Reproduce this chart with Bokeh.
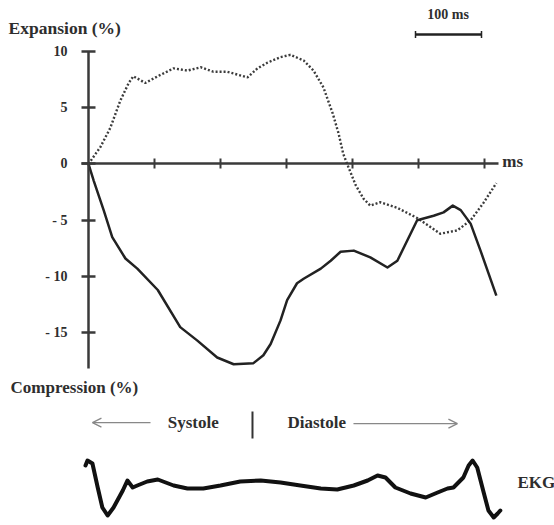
from bokeh.plotting import figure
from bokeh.models import Range1d, LinearAxis, FixedTicker, Label, Arrow, OpenHead
from bokeh.embed import file_html
from bokeh.resources import INLINE

# ---- data (ms, %) ----
time_exp = [0, 18, 33, 48, 61, 68, 86, 105, 129, 150, 170, 189, 210, 241, 256, 271, 291, 306, 326,
            341, 356, 370, 379, 386, 394, 405, 417, 427, 442, 468, 498, 533, 559, 579, 598, 618]
expansion = [0, 1.5, 3.2, 5.6, 7.2, 7.8, 7.2, 7.8, 8.5, 8.3, 8.6, 8.2, 8.2, 7.7, 8.5, 9.0, 9.5, 9.7, 9.2,
             8.3, 6.8, 4.5, 2.7, 0.9, -0.3, -1.9, -3.1, -3.7, -3.4, -3.9, -4.8, -6.2, -5.9, -5.0, -3.5, -1.7]

time_comp = [0, 8, 23, 36, 56, 74, 105, 139, 165, 195, 220, 250, 265, 276, 291, 301, 316, 326, 352,
             367, 382, 402, 427, 453, 468, 483, 498, 523, 538, 552, 564, 579, 594, 606, 618]
compression = [0, -1.5, -4.1, -6.5, -8.4, -9.3, -11.2, -14.5, -15.7, -17.2, -17.8, -17.7, -17.0, -16.0,
               -13.9, -12.1, -10.6, -10.2, -9.3, -8.6, -7.8, -7.7, -8.3, -9.2, -8.6, -6.8, -5.0, -4.6,
               -4.3, -3.7, -4.1, -5.3, -7.7, -9.7, -11.7]

time_ekg = [-4.5, -1.5, 6, 14, 21, 29, 38, 52, 59, 67, 74, 89, 105, 129, 150, 174, 200, 230, 261, 291,
            321, 352, 377, 402, 423, 438, 450, 465, 488, 511, 529, 544, 553, 568, 576, 582, 589, 598,
            606, 614, 620, 624]
ekg = [1.5, 2.0, 1.7, -0.7, -2.7, -3.5, -2.7, -1.0, 0.0, -0.7, -0.5, -0.1, 0.1, -0.5, -0.8, -0.8, -0.5,
       -0.1, 0.0, -0.2, -0.5, -0.8, -0.9, -0.5, 0.0, 0.5, 0.3, -0.7, -1.3, -1.7, -1.2, -0.8, -0.7, 0.3,
       1.5, 2.0, 1.3, -1.0, -3.0, -3.7, -3.3, -3.0]

x_ticks = [100, 200, 300, 400, 500, 600]
y_ticks = [10, 5, 0, -5, -10, -15]
y_tick_labels = ["10", "5", "0", "- 5", "- 10", "- 15"]
scale_bar_ms = 100

FONT = "Liberation Serif"
TXT = "#2e2e2e"
AX = "#3a3a3a"

p = figure(width=554, height=525, output_backend="svg", toolbar_location=None,
           x_axis_type=None, y_axis_type=None,
           x_range=Range1d(-133.3, 706.1), y_range=Range1d(-32.13, 14.53),
           min_border=0, outline_line_color=None, background_fill_color="white")
p.grid.visible = False
p.extra_y_ranges = {"ekg": Range1d(-4.5, 48.0)}

# axes crossing at origin
yax = LinearAxis(fixed_location=0, bounds=(-18.2, 10), ticker=FixedTicker(ticks=y_ticks),
                 major_label_overrides={t: l for t, l in zip(y_ticks, y_tick_labels)},
                 axis_line_width=2.5, axis_line_color=AX, major_tick_line_width=2.5,
                 major_tick_line_color=AX, major_tick_in=7, major_tick_out=7,
                 minor_tick_line_color=None, major_label_standoff=14,
                 major_label_text_font=FONT, major_label_text_font_style="bold",
                 major_label_text_font_size="14px", major_label_text_color=TXT)
p.add_layout(yax, "left")
xax = LinearAxis(fixed_location=0, bounds=(-10.6, 621), ticker=FixedTicker(ticks=x_ticks),
                 axis_line_width=2.5, axis_line_color=AX, major_tick_line_width=2,
                 major_tick_line_color=AX, major_tick_in=5, major_tick_out=5,
                 minor_tick_line_color=None, major_label_text_color=None)
p.add_layout(xax, "below")

# curves
p.line(time_exp, expansion, line_width=2.4, line_color="#3c3c3c", line_dash="2 2")
p.line(time_comp, compression, line_width=2.5, line_color="#222222", line_join="round")
p.line(time_ekg, ekg, line_width=4, line_color="#111111", y_range_name="ekg",
       line_join="round", line_cap="round")

# scale bar
sb_x0 = 495.5
p.segment(x0=[sb_x0], y0=[11.51], x1=[sb_x0 + scale_bar_ms], y1=[11.51], line_width=2.5, line_color="#222")
p.segment(x0=[sb_x0, sb_x0 + scale_bar_ms], y0=[11.2, 11.2], x1=[sb_x0, sb_x0 + scale_bar_ms],
          y1=[11.82, 11.82], line_width=1.5, line_color="#222")

def lab(x, y, text, size="17px", align="left"):
    p.add_layout(Label(x=x, y=y, text=text, text_font=FONT, text_font_style="bold",
                       text_font_size=size, text_color=TXT, text_baseline="middle",
                       text_align=align))

lab(-121.0, 12.13, "Expansion (%)", size="17.5px")
lab(-118.0, -19.87, "Compression (%)")
lab(627, 0.2, "ms")
lab(545, 13.29, "100 ms", size="14px", align="center")
lab(120, -22.98, "Systole")
lab(301.5, -22.98, "Diastole")
lab(650, -28.3, "EKG")

# phase divider and arrows
p.segment(x0=[248.5], y0=[-22.0], x1=[248.5], y1=[-24.4], line_width=2, line_color="#333")
p.add_layout(Arrow(end=OpenHead(size=9, line_color="#888", line_width=1.3),
                   x_start=94, y_start=-22.98, x_end=6, y_end=-22.98,
                   line_color="#888", line_width=1.3))
p.add_layout(Arrow(end=OpenHead(size=9, line_color="#888", line_width=1.3),
                   x_start=401.5, y_start=-23.07, x_end=559, y_end=-23.07,
                   line_color="#888", line_width=1.3))

open("out.html", "w").write(file_html(p, INLINE))
